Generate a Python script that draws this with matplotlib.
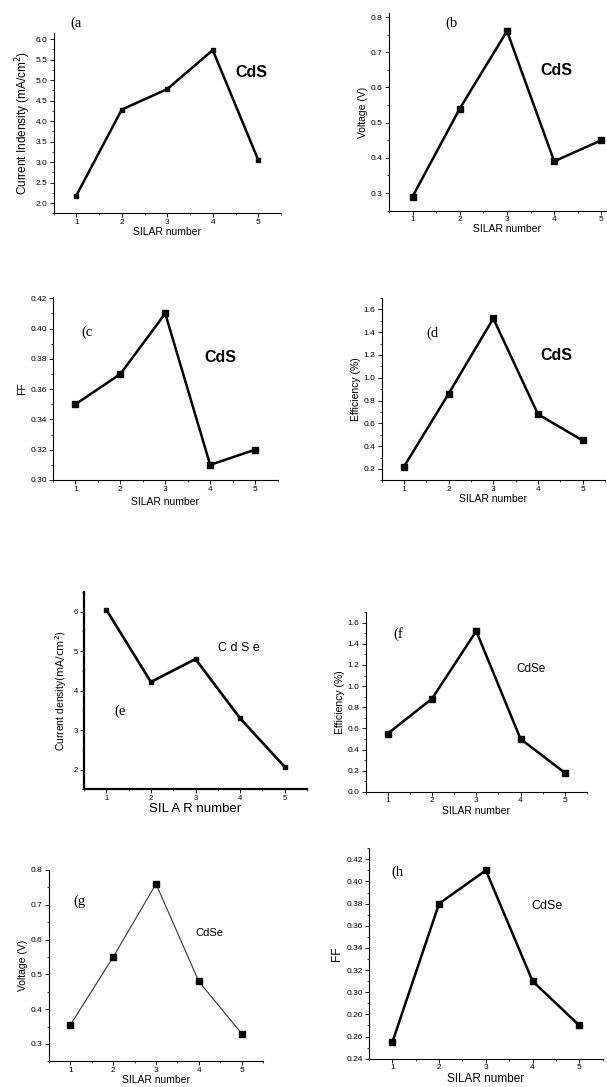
"""
    SILAR number vs. cell parameters, CdS and CdSe (8 panels)
"""
import matplotlib
matplotlib.use('Agg')
import matplotlib.pyplot as plt
from matplotlib.ticker import MultipleLocator, FormatStrFormatter, FixedLocator, FixedFormatter

# data
silar = [1, 2, 3, 4, 5]
cds_current = [2.18, 4.28, 4.78, 5.73, 3.05]
cds_voltage = [0.29, 0.54, 0.76, 0.39, 0.45]
cds_ff = [0.35, 0.37, 0.41, 0.31, 0.32]
cds_eff = [0.22, 0.86, 1.52, 0.68, 0.45]
cdse_current = [6.05, 4.22, 4.80, 3.30, 2.07]
cdse_eff = [0.55, 0.88, 1.52, 0.50, 0.18]
cdse_voltage = [0.355, 0.55, 0.76, 0.48, 0.33]
cdse_ff = [0.255, 0.38, 0.41, 0.31, 0.27]
# tick labels of panel (h), as printed (0.28 shows up as 0.20)
h_yticks = [0.24, 0.26, 0.28, 0.30, 0.32, 0.34, 0.36, 0.38, 0.40, 0.42]
h_yticklabels = ['0.24', '0.26', '0.20', '0.30', '0.32', '0.34', '0.36', '0.38', '0.40', '0.42']

W, H = 607, 1087
SANS = ['Liberation Sans', 'DejaVu Sans']
SERIF = ['Liberation Serif', 'DejaVu Serif']

fig = plt.figure(figsize=(W / 100, H / 100), dpi=100)


def add_panel(left, top, right, bottom):
    # pixel box -> figure fraction
    return fig.add_axes([left / W, 1 - bottom / H, (right - left) / W, (bottom - top) / H])


def style(ax, ylim, ystep, yfmt, spine_w=0.8, labelsize=6):
    ax.set_xlim(0.5, 5.5)
    ax.set_ylim(*ylim)
    ax.spines['top'].set_visible(False)
    ax.spines['right'].set_visible(False)
    ax.spines['left'].set_linewidth(spine_w)
    ax.spines['bottom'].set_linewidth(spine_w)
    ax.xaxis.set_major_locator(MultipleLocator(1))
    ax.xaxis.set_minor_locator(MultipleLocator(0.5))
    ax.yaxis.set_major_locator(MultipleLocator(ystep))
    ax.yaxis.set_minor_locator(MultipleLocator(ystep / 2))
    ax.yaxis.set_major_formatter(FormatStrFormatter(yfmt))
    ax.xaxis.set_major_formatter(FormatStrFormatter('%d'))
    ax.tick_params(which='major', direction='out', length=3, width=0.6, labelsize=labelsize, pad=1.5)
    ax.tick_params(axis='x', which='major', pad=1)
    ax.tick_params(which='minor', direction='out', length=1.5, width=0.5)
    for lab in ax.get_xticklabels() + ax.get_yticklabels():
        lab.set_fontfamily(SANS)


def draw(ax, y, lw=1.8, ms=4.5, color='black'):
    ax.plot(silar, y, '-s', color=color, lw=lw, ms=ms, mfc='black', mec='black')


def tag(ax, x, y, s):
    ax.text(x, y, s, transform=ax.transAxes, fontsize=10.5, family=SERIF)


def name(ax, x, y, s, size, bold=False):
    ax.text(x, y, s, transform=ax.transAxes, fontsize=size,
            fontweight='bold' if bold else 'normal', family=SANS)


# (a) CdS current density
ax = add_panel(53.5, 32.9, 281, 213.3)
draw(ax, cds_current, lw=1.8, ms=2.6)
style(ax, (1.75, 6.15), 0.5, '%.1f')
ax.set_ylabel('Current Indensity (mA/cm$^{2}$)', fontsize=8.5, family=SANS, labelpad=2)
ax.set_xlabel('SILAR number', fontsize=7.5, family=SANS, labelpad=0.5)
tag(ax, 0.075, 1.035, '(a')
name(ax, 0.80, 0.755, 'CdS', 11.5, bold=True)

# (b) CdS voltage
ax = add_panel(389, 13.5, 625, 210.6)
draw(ax, cds_voltage, ms=5)
style(ax, (0.25, 0.81), 0.1, '%.1f')
ax.set_ylabel('Voltage (V)', fontsize=7.5, family=SANS, labelpad=2)
ax.set_xlabel('SILAR number', fontsize=7.5, family=SANS, labelpad=0.5)
tag(ax, 0.237, 0.93, '(b')
name(ax, 0.643, 0.688, 'CdS', 11.5, bold=True)

# (c) CdS FF
ax = add_panel(53, 296.8, 277.5, 480)
draw(ax, cds_ff, ms=4.5)
style(ax, (0.30, 0.421), 0.02, '%.2f')
ax.set_ylabel('FF', fontsize=7.5, family=SANS, labelpad=2)
ax.set_xlabel('SILAR number', fontsize=7.5, family=SANS, labelpad=3)
tag(ax, 0.125, 0.786, '(c')
name(ax, 0.673, 0.644, 'CdS', 11.5, bold=True)

# (d) CdS efficiency
ax = add_panel(381.6, 297.9, 605, 480.4)
draw(ax, cds_eff, ms=4.5)
style(ax, (0.1, 1.7), 0.2, '%.1f')
ax.set_ylabel('Efficiency (%)', fontsize=7.5, family=SANS, labelpad=2)
ax.set_xlabel('SILAR number', fontsize=7.5, family=SANS, labelpad=1)
tag(ax, 0.199, 0.786, '(d')
name(ax, 0.712, 0.66, 'CdS', 11.5, bold=True)

# (e) CdSe current density
ax = add_panel(84, 591.9, 307, 789.4)
draw(ax, cdse_current, lw=1.9, ms=2.6)
style(ax, (1.5, 6.5), 1, '%d', spine_w=1.6, labelsize=5.5)
ax.set_ylabel('Current density$\\left(\\mathrm{mA/cm^{2}}\\right)$', fontsize=7.5, family=SANS, labelpad=3)
ax.set_xlabel('SIL A R number', fontsize=9.5, family=SANS, labelpad=0.5)
tag(ax, 0.135, 0.377, '(e')
name(ax, 0.60, 0.70, 'C d S e', 9)

# (f) CdSe efficiency
ax = add_panel(365.5, 612.1, 587, 791.8)
draw(ax, cdse_eff, ms=4.5)
style(ax, (0.0, 1.7), 0.2, '%.1f')
ax.set_ylabel('Efficiency (%)', fontsize=7.5, family=SANS, labelpad=2)
ax.set_xlabel('SILAR number', fontsize=7.5, family=SANS, labelpad=1)
tag(ax, 0.124, 0.856, '(f')
name(ax, 0.68, 0.667, 'CdSe', 8.5)

# (g) CdSe voltage
ax = add_panel(49, 870, 263, 1061.4)
draw(ax, cdse_voltage, lw=0.8, ms=4.5, color='#333333')
style(ax, (0.25, 0.8), 0.1, '%.1f')
ax.set_ylabel('Voltage (V)', fontsize=7.5, family=SANS, labelpad=2)
ax.set_xlabel('SILAR number', fontsize=7.5, family=SANS, labelpad=1)
tag(ax, 0.112, 0.817, '(g')
name(ax, 0.682, 0.655, 'CdSe', 8)

# (h) CdSe FF
ax = add_panel(369, 848.2, 602.7, 1058.7)
draw(ax, cdse_ff, ms=5)
style(ax, (0.24, 0.43), 0.02, '%.2f')
ax.yaxis.set_major_locator(FixedLocator(h_yticks))
ax.yaxis.set_major_formatter(FixedFormatter(h_yticklabels))
ax.yaxis.set_minor_locator(MultipleLocator(0.01))
for lab in ax.get_yticklabels():
    lab.set_fontfamily(SANS)
ax.set_ylabel('FF', fontsize=8.5, family=SANS, labelpad=2)
ax.set_xlabel('SILAR number', fontsize=8.5, family=SANS, labelpad=1)
tag(ax, 0.097, 0.868, '(h')
name(ax, 0.696, 0.711, 'CdSe', 9)

fig.savefig('out.png', dpi=100)
